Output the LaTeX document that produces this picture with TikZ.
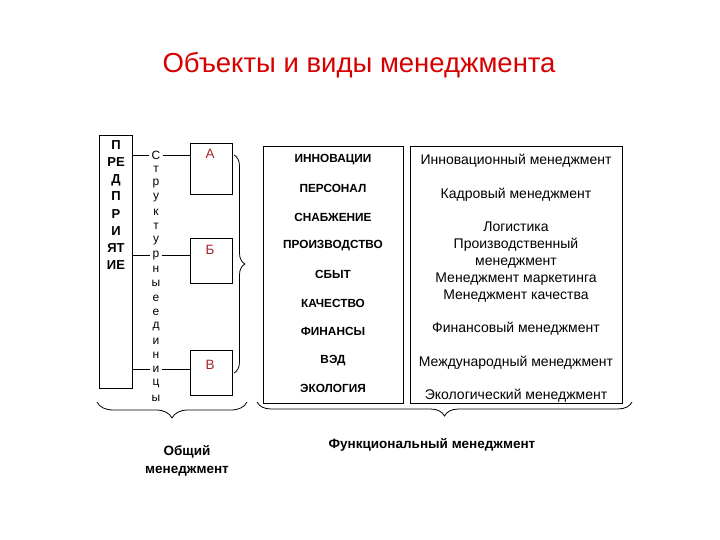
\documentclass[tikz,border=0pt]{standalone}
\usepackage{fontspec}
\setmainfont{Liberation Sans}
\usetikzlibrary{decorations.pathreplacing}
\definecolor{titlered}{RGB}{215,0,0}
\definecolor{unitred}{RGB}{165,35,35}

\begin{document}
\begin{tikzpicture}[x=1pt,y=-1pt,
  box/.style={draw,line width=0.8pt,inner sep=0pt},
  item/.style={font=\bfseries\fontsize{11.8}{14}\selectfont},
  kind/.style={font=\fontsize{14}{16.8}\selectfont,align=center},
  letter/.style={font=\fontsize{12}{14}\selectfont,inner sep=2pt},
  brace/.style={line width=0.8pt,decorate,decoration={brace,amplitude=#1}}]
  \useasboundingbox (0,0) rectangle (720,540);

  \node[titlered,font=\fontsize{27.5}{32}\selectfont] (title) at (359,65) {Объекты и виды менеджмента};

  % enterprise
  \node[box,minimum width=33,minimum height=253,anchor=north west] (pred) at (99,135) {};
  \node[font=\bfseries\fontsize{13}{17.1}\selectfont,align=center,inner sep=0pt] (predtext) at (116,205) {П\\РЕ\\Д\\П\\Р\\И\\ЯТ\\ИЕ};

  % structural units, one letter per line
  \foreach \l [count=\i] in {С,т,р,у,к,т,у,р,н,ы,е,е,д,и,н,и,ц,ы}
    \node[letter] (s\i) at (156,{155+14.3*(\i-1)}) {\l};

  \node[box,minimum width=42,minimum height=51,anchor=north west] (ua) at (190,143) {};
  \node[box,minimum width=42,minimum height=45,anchor=north west] (ub) at (190,238) {};
  \node[box,minimum width=42,minimum height=45,anchor=north west] (uc) at (190,350) {};
  \node[unitred,font=\fontsize{13.5}{16}\selectfont] (la) at (210,154) {А};
  \node[unitred,font=\fontsize{13.5}{16}\selectfont] (lb) at (210,250) {Б};
  \node[unitred,font=\fontsize{13.5}{16}\selectfont] (lc) at (210,365) {В};

  \foreach \s/\u in {s1/ua,s8/ub,s16/uc}{
    \draw[line width=0.8pt] (pred.east |- \s) -- (\s.west);
    \draw[line width=0.8pt] (\s.east) -- (\u.west |- \s);
  }

  \draw[brace=11] (234,155) -- (234,373);

  % objects
  \node[box,minimum width=140,minimum height=257,anchor=north west] (objects) at (263,146) {};
  \foreach \t [count=\i] in {ИННОВАЦИИ,ПЕРСОНАЛ,СНАБЖЕНИЕ,ПРОИЗВОДСТВО,СБЫТ,КАЧЕСТВО,ФИНАНСЫ,ВЭД,ЭКОЛОГИЯ}
    \node[item] (o\i) at (333,{160+28.6*(\i-1)}) {\t};

  % kinds of management
  \node[box,minimum width=212,minimum height=257,anchor=north west] (kinds) at (410,146) {};
  \node[kind] (k1) at (516,161) {Инновационный менеджмент};
  \node[kind] (k2) at (516,195) {Кадровый менеджмент};
  \node[kind] (k3) at (516,262) {Логистика\\Производственный\\менеджмент\\Менеджмент маркетинга\\Менеджмент качества};
  \node[kind] (k4) at (516,329) {Финансовый менеджмент};
  \node[kind] (k5) at (516,363) {Международный менеджмент};
  \node[kind] (k6) at (516,396) {Экологический менеджмент};

  \draw[brace=16] (247,402) -- (97,402);
  \draw[brace=14] (632,402) -- (257,402);

  \node[font=\bfseries\fontsize{13.5}{18}\selectfont,align=center] (general) at (187,461) {Общий\\менеджмент};
  \node[font=\bfseries\fontsize{13.5}{16}\selectfont] (functional) at (432,445) {Функциональный менеджмент};
\end{tikzpicture}
\end{document}
